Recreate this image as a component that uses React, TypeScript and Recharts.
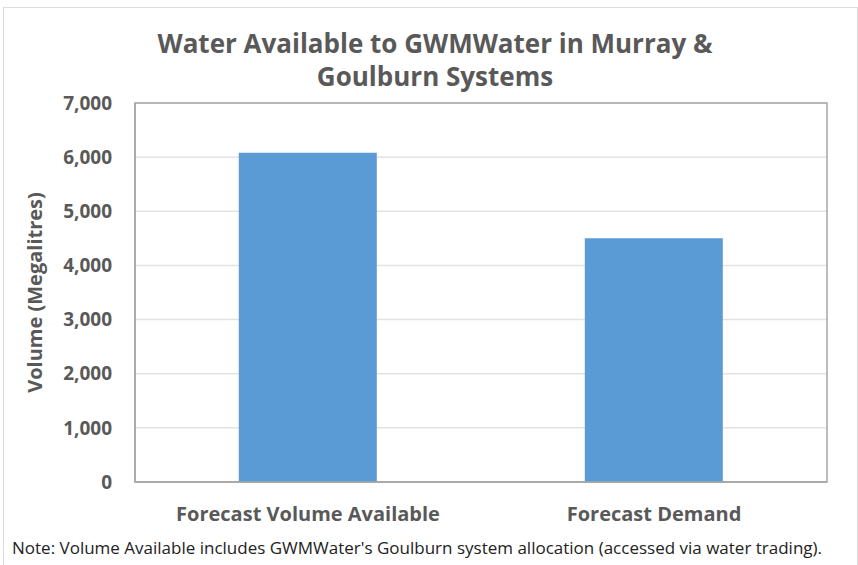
import React from "react";
import {
  BarChart,
  Bar,
  XAxis,
  YAxis,
  CartesianGrid,
  Label,
  ReferenceArea,
} from "recharts";

const categories = ["Forecast Volume Available", "Forecast Demand"];
const volumes = [6080, 4500];
const yTicks = [0, 1000, 2000, 3000, 4000, 5000, 6000, 7000];

const data = categories.map((name, i) => ({ name, volume: volumes[i] }));

const FONT = "'Open Sans', Lato, sans-serif";
const TEXT = "#595959";

export default function App() {
  return (
    <div
      style={{
        position: "absolute",
        left: 0,
        top: 0,
        width: 858,
        height: 565,
        overflow: "hidden",
        background: "#fff",
        fontFamily: FONT,
      }}
    >
      <div
        style={{
          position: "absolute",
          left: 3,
          top: 7,
          width: 853,
          height: 570,
          border: "1px solid #dcdcdc",
        }}
      />
      <div
        style={{
          position: "absolute",
          left: 0,
          top: 27,
          width: 870,
          textAlign: "center",
          color: TEXT,
          fontWeight: 700,
          fontSize: 26,
          lineHeight: "33px",
        }}
      >
        Water Available to GWMWater in Murray &amp;
        <br />
        Goulburn Systems
      </div>

      <div style={{ position: "absolute", left: 0, top: 0 }}>
        <BarChart
          width={858}
          height={565}
          data={data}
          margin={{ top: 103, right: 31, bottom: 43, left: 55 }}
          barCategoryGap="30%"
        >
          <CartesianGrid vertical={false} stroke="#e3e3e3" strokeWidth={1.5} />
          <XAxis
            dataKey="name"
            axisLine={{ stroke: "#a6a6a6", strokeWidth: 1.5 }}
            tickLine={false}
            tick={{ fill: TEXT, fontSize: 20, fontWeight: 700, fontFamily: FONT }}
            tickMargin={19}
            height={40}
          />
          <YAxis
            domain={[0, 7000]}
            ticks={yTicks}
            interval={0}
            tickFormatter={(v: number) => v.toLocaleString("en-US")}
            axisLine={{ stroke: "#a6a6a6", strokeWidth: 1.5 }}
            tickLine={false}
            tick={{ fill: TEXT, fontSize: 19, fontWeight: 700, fontFamily: FONT }}
            tickMargin={17}
            width={80}
          >
            <Label
              value="Volume (Megalitres)"
              angle={-90}
              position="insideLeft"
              offset={-20}
              style={{
                fill: TEXT,
                fontSize: 20,
                fontWeight: 700,
                fontFamily: FONT,
                textAnchor: "middle",
              }}
            />
          </YAxis>
          <ReferenceArea
            x1={categories[0]}
            x2={categories[categories.length - 1]}
            y1={0}
            y2={7000}
            fill="none"
            stroke="#a6a6a6"
            strokeWidth={1.5}
            ifOverflow="visible"
          />
          <Bar dataKey="volume" fill="#5b9bd5" isAnimationActive={false} />
        </BarChart>
      </div>

      <div
        style={{
          position: "absolute",
          left: 12,
          top: 536,
          color: "#222",
          fontSize: 17,
          whiteSpace: "nowrap",
        }}
      >
        Note: Volume Available includes GWMWater's Goulburn system allocation
        (accessed via water trading).
      </div>
    </div>
  );
}
